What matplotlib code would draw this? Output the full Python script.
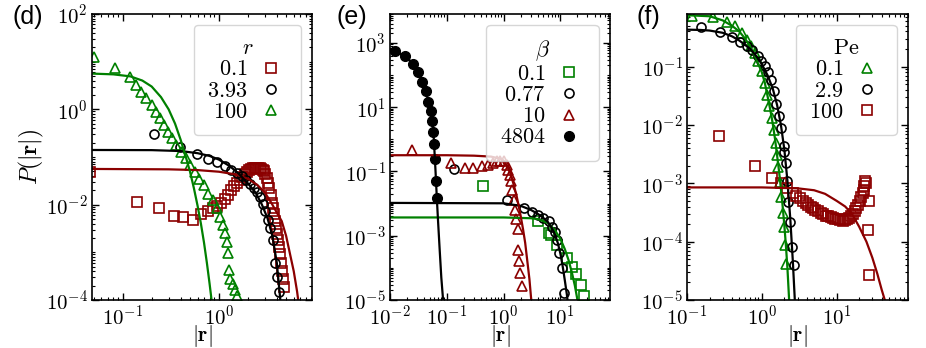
import numpy as np
import matplotlib
matplotlib.use('Agg')
import matplotlib.pyplot as plt
from matplotlib import ticker

plt.rcParams['mathtext.fontset'] = 'cm'
plt.rcParams['mathtext.default'] = 'rm'

RED = '#8b0000'
GREEN = '#008000'

# ---------------- panel (d): r ----------------
d_sq_x = [0.046, 0.141, 0.239, 0.34, 0.425, 0.532, 0.65, 0.774, 0.873, 0.95, 1.05, 1.15, 1.25,
          1.35, 1.45, 1.55, 1.65, 1.75, 1.85, 1.95, 2.05, 2.15, 2.25, 2.35, 2.45, 2.55, 2.65,
          2.75, 2.85, 2.95, 3.05, 3.15, 3.25, 3.35, 3.45, 3.55, 3.65, 3.75, 3.85, 3.95, 4.05,
          4.15, 4.25, 4.35, 4.45, 4.55, 4.65, 4.75]
d_sq_y = [0.048, 0.0112, 0.0083, 0.0057, 0.0056, 0.0048, 0.0063, 0.0074, 0.0087, 0.0095, 0.011,
          0.013, 0.016, 0.020, 0.024, 0.028, 0.033, 0.038, 0.043, 0.048, 0.052, 0.055, 0.058,
          0.059, 0.060, 0.060, 0.059, 0.057, 0.054, 0.050, 0.044, 0.037, 0.029, 0.022, 0.016,
          0.011, 0.0085, 0.0065, 0.0046, 0.0033, 0.0024, 0.0018, 0.0013, 0.0009, 0.0006,
          0.0004, 0.00027, 0.00019]
d_ci_x = [0.212, 0.393, 0.585, 0.774, 0.96, 1.15, 1.34, 1.53, 1.72, 1.91, 2.10, 2.29, 2.48, 2.67,
          2.86, 3.05, 3.24, 3.43, 3.62, 3.81, 4.0, 4.19]
d_ci_y = [0.30, 0.165, 0.116, 0.089, 0.077, 0.066, 0.054, 0.046, 0.039, 0.033, 0.027, 0.022,
          0.018, 0.0147, 0.0105, 0.0072, 0.0047, 0.0032, 0.0018, 0.0006, 0.0003, 0.00015]
d_tr_x = [0.05, 0.083, 0.118, 0.139, 0.156, 0.176, 0.2, 0.221, 0.243, 0.267, 0.297, 0.329, 0.362,
          0.408, 0.453, 0.499, 0.562, 0.624, 0.698, 0.774, 0.873, 0.96, 1.02, 1.09, 1.16, 1.2,
          1.25, 1.27, 1.30, 1.41, 1.47, 1.53]
d_tr_y = [12.3, 7.5, 4.7, 3.2, 2.35, 1.7, 1.23, 0.89, 0.65, 0.47, 0.34, 0.245, 0.178, 0.129,
          0.093, 0.068, 0.049, 0.035, 0.026, 0.017, 0.0126, 0.0083, 0.0056, 0.0037, 0.0025,
          0.00166, 0.00095, 0.00043, 0.00028, 0.00022, 0.000162, 0.00012]

d_fit_red_x = [0.048, 0.3, 0.6, 1.0, 1.5, 2.0, 2.5, 3.0, 3.5, 4.0, 4.5, 5.0, 5.5, 6.0, 6.5, 6.9]
d_fit_red_y = [0.056, 0.055, 0.053, 0.049, 0.043, 0.035, 0.026, 0.018, 0.011, 0.0068, 0.0045,
               0.0022, 0.0009, 0.0004, 0.00015, 0.00006]
d_fit_blk_x = [0.048, 0.2, 0.4, 0.6, 0.8, 1.0, 1.3, 1.6, 2.0, 2.4, 2.8, 3.2, 3.6, 4.0, 4.35, 4.6]
d_fit_blk_y = [0.14, 0.139, 0.133, 0.12, 0.105, 0.088, 0.064, 0.045, 0.028, 0.018, 0.010,
               0.0052, 0.0022, 0.0006, 0.0001, 0.00003]
d_fit_grn_x = [0.048, 0.08, 0.12, 0.16, 0.2, 0.25, 0.3, 0.35, 0.4, 0.45, 0.5, 0.55, 0.6, 0.65,
               0.7, 0.75, 0.8, 0.85]
d_fit_grn_y = [5.6, 5.4, 4.9, 4.0, 3.0, 1.8, 1.0, 0.5, 0.23, 0.105, 0.05, 0.022, 0.0095, 0.004,
               0.0016, 0.0006, 0.00022, 0.00008]

# ---------------- panel (e): beta ----------------
e_sq_x = [0.43, 4.0, 6.2, 6.8, 8.7, 13.1, 15.9, 19.0, 22.7, 25.8]
e_sq_y = [0.036, 0.0029, 0.0012, 0.00107, 0.00052, 0.0002, 0.00011, 6.5e-5, 3e-5, 1.3e-5]
e_ci_x = [0.134, 1.17, 2.3, 3.16, 4.1, 5.0, 6.2, 7.1, 8.1, 8.7, 9.3, 10.7, 11.8]
e_ci_y = [0.117, 0.013, 0.0072, 0.0056, 0.0044, 0.0035, 0.0028, 0.0019, 0.00135, 0.00074,
          0.00029, 0.0001, 1.6e-5]
e_tr_x = [0.0242, 0.117, 0.21, 0.295, 0.414, 0.54, 0.66, 0.76, 0.87, 1.0, 1.15, 1.22, 1.28,
          1.33, 1.4, 1.5, 1.59, 1.66, 1.76, 1.83, 1.9, 1.96, 2.09]
e_tr_y = [0.47, 0.18, 0.129, 0.129, 0.144, 0.162, 0.18, 0.205, 0.21, 0.205, 0.162, 0.11, 0.075,
          0.049, 0.027, 0.0132, 0.0065, 0.0032, 0.0016, 0.00036, 0.00016, 6.8e-5, 2.7e-5]
e_fc_x = [0.0123, 0.0184, 0.0258, 0.0316, 0.0372, 0.0427, 0.0474, 0.0524, 0.055, 0.058, 0.06,
          0.0615, 0.0644, 0.0667]
e_fc_y = [547, 383, 226, 121, 63, 31, 15, 7.4, 3.6, 1.74, 0.7, 0.245, 0.049, 0.0148]

e_fit_grn_x = [0.01, 1.0, 3.0, 4.0, 6.0, 8.0, 10.0, 12.0, 14.0, 16.0, 18.0, 20.0, 22.0]
e_fit_grn_y = [0.0037, 0.0037, 0.0035, 0.0033, 0.0025, 0.0015, 0.0008, 0.00038, 0.00017, 7e-5,
               2.8e-5, 1e-5, 3.5e-6]
e_fit_blk_x = [0.01, 1.0, 2.0, 3.0, 4.0, 5.0, 6.0, 7.0, 8.0, 9.0, 10.0, 11.0, 12.0, 13.0, 14.0]
e_fit_blk_y = [0.0105, 0.0102, 0.0085, 0.0064, 0.0048, 0.0036, 0.0027, 0.0018, 0.0011, 0.0006,
               0.00028, 0.00011, 4e-5, 1.5e-5, 5e-6]
e_fit_red_x = [0.01, 0.1, 0.3, 0.6, 0.87, 1.0, 1.15, 1.31, 1.5, 1.7, 1.96, 2.2, 2.4, 2.6, 2.85,
               3.07, 3.2]
e_fit_red_y = [0.32, 0.32, 0.31, 0.29, 0.25, 0.22, 0.15, 0.089, 0.040, 0.017, 0.005, 0.0016,
               0.0006, 0.00018, 4.5e-5, 1e-5, 4e-6]
e_fit_fc_x = [0.01, 0.0123, 0.0184, 0.0258, 0.0316, 0.0372, 0.0427, 0.0474, 0.0524, 0.055, 0.058,
              0.06, 0.063, 0.0667, 0.07, 0.075, 0.08, 0.086, 0.09]
e_fit_fc_y = [640, 560, 380, 225, 125, 63, 31, 15, 7.0, 3.8, 1.8, 0.6, 0.12, 0.015, 0.003,
              0.00035, 0.00005, 0.00001, 3e-6]

# ---------------- panel (f): Pe ----------------
f_tr_x = [0.115, 0.224, 0.338, 0.436, 0.537, 0.625, 0.706, 0.807, 0.893, 1.0, 1.10, 1.18, 1.25,
          1.35, 1.45, 1.57, 1.62, 1.67, 1.74, 1.83, 1.92, 1.96, 2.03, 2.09]
f_tr_y = [0.73, 0.71, 0.575, 0.49, 0.38, 0.29, 0.224, 0.17, 0.123, 0.083, 0.052, 0.033, 0.021,
          0.013, 0.0083, 0.0049, 0.0031, 0.0019, 0.00107, 0.00059, 0.00031, 0.00018, 8.8e-5,
          4.2e-5]
f_ci_x = [0.152, 0.275, 0.395, 0.51, 0.625, 0.75, 0.877, 0.97, 1.10, 1.21, 1.31, 1.45, 1.57,
          1.70, 1.83, 1.96, 2.0, 2.08, 2.15, 2.25, 2.4, 2.5, 2.7, 2.85]
f_ci_y = [0.48, 0.395, 0.32, 0.265, 0.224, 0.19, 0.155, 0.127, 0.104, 0.081, 0.06, 0.038, 0.023,
          0.014, 0.0087, 0.0043, 0.0035, 0.0022, 0.0011, 0.00048, 0.00022, 8e-5, 4e-5, 8e-6]
f_sq_x = [0.27, 0.807, 1.37, 1.83, 2.2, 2.61, 2.9, 3.21, 3.55, 3.85, 4.14, 4.5, 4.83, 5.2, 5.6,
          6.1, 6.6, 7.1, 7.7, 8.3, 8.9, 9.6, 10.4, 11.2, 12.1, 12.9, 13.7, 14.7, 15.7, 16.5,
          17.4, 18.3, 19.2, 20.3, 21.4, 22.2, 22.9, 23.5, 24.0, 24.4, 27.0, 26.2, 27.0]
f_sq_y = [0.0064, 0.002, 0.00123, 0.001, 0.00082, 0.00067, 0.0006, 0.00056, 0.00049, 0.00046,
          0.00043, 0.0004, 0.00037, 0.00035, 0.00033, 0.00031, 0.0003, 0.00028, 0.00027,
          0.00026, 0.00025, 0.000245, 0.00024, 0.000235, 0.00023, 0.000235, 0.00024, 0.00025,
          0.00027, 0.0003, 0.00033, 0.00038, 0.00043, 0.0005, 0.00059, 0.00068, 0.00076,
          0.0009, 0.0011, 0.001, 0.00049, 0.00016, 2.7e-5]

f_fit_grn_x = [0.1, 0.2, 0.3, 0.4, 0.5, 0.6, 0.7, 0.8, 0.9, 1.0, 1.1, 1.2, 1.3, 1.4, 1.5, 1.6,
               1.7, 1.8, 1.9, 2.0, 2.1, 2.2, 2.3, 2.4]
f_fit_grn_y = [0.76, 0.73, 0.62, 0.5, 0.4, 0.3, 0.22, 0.155, 0.11, 0.08, 0.052, 0.03, 0.018,
               0.0105, 0.0058, 0.003, 0.0016, 0.0008, 0.0004, 0.00019, 8.5e-5, 3.5e-5, 1.2e-5,
               4e-6]
f_fit_blk_x = [0.1, 0.15, 0.2, 0.3, 0.4, 0.5, 0.6, 0.7, 0.8, 0.9, 1.0, 1.2, 1.4, 1.6, 1.8, 2.0,
               2.2, 2.4, 2.6, 2.8]
f_fit_blk_y = [0.43, 0.425, 0.415, 0.38, 0.33, 0.28, 0.235, 0.2, 0.165, 0.135, 0.11, 0.07,
               0.042, 0.022, 0.01, 0.0038, 0.0011, 0.00025, 4.5e-5, 7e-6]
f_fit_red_x = [0.1, 1.0, 3.0, 5.0, 7.0, 10.0, 13.0, 16.0, 20.0, 25.0, 30.0, 35.0, 40.0, 44.0, 48.0]
f_fit_red_y = [0.00085, 0.00085, 0.00082, 0.00076, 0.00066, 0.0005, 0.0004, 0.0003, 0.00018,
               0.0001, 5.3e-5, 2.8e-5, 1.5e-5, 1e-5, 6e-6]


def dec_fmt(v, pos):
    return r'$10^{%d}$' % int(round(np.log10(v)))


def style(ax, xmaj, ymaj):
    ax.set_xscale('log')
    ax.set_yscale('log')
    ax.xaxis.set_major_locator(ticker.FixedLocator(xmaj))
    ax.yaxis.set_major_locator(ticker.FixedLocator(ymaj))
    for a in (ax.xaxis, ax.yaxis):
        a.set_major_formatter(ticker.FuncFormatter(dec_fmt))
        a.set_minor_locator(ticker.LogLocator(base=10, subs=np.arange(1, 10), numticks=30))
        a.set_minor_formatter(ticker.NullFormatter())
    ax.tick_params(which='both', direction='in', top=True, right=True, labelsize=15, pad=3)
    ax.tick_params(which='major', length=5, width=1)
    ax.tick_params(which='minor', length=2.5, width=0.8)
    for s in ax.spines.values():
        s.set_linewidth(1.2)
    ax.set_xlabel(r'$|\mathbf{r}|$', fontsize=15.5, labelpad=-4)


def legend(ax, title):
    leg = ax.legend(title=title, loc='upper right', fontsize=16, title_fontsize=16,
                    markerfirst=False, handlelength=1.5, handletextpad=0.3, labelspacing=0.05,
                    borderpad=0.6, numpoints=1)
    return leg


mk = dict(ls='none', ms=6.5, mew=1.2, mfc='none')

fig = plt.figure(figsize=(9.26, 3.48), dpi=100)

# (d)
ax = fig.add_axes([0.0994, 0.138, 0.2376, 0.822])
ax.plot(d_sq_x, d_sq_y, marker='s', color=RED, label=r'$0.1$', **mk)
ax.plot(d_ci_x, d_ci_y, marker='o', color='k', label=r'$3.93$', **mk)
ax.plot(d_tr_x, d_tr_y, marker='^', color=GREEN, label=r'$100$', **mk)
ax.plot(d_fit_red_x, d_fit_red_y, color=RED, lw=1.6)
ax.plot(d_fit_blk_x, d_fit_blk_y, color='k', lw=1.6)
ax.plot(d_fit_grn_x, d_fit_grn_y, color=GREEN, lw=1.6)
style(ax, [1e-1, 1e0], [1e-4, 1e-2, 1e0, 1e2])
ax.set_xlim(0.048, 9.3)
ax.set_ylim(1e-4, 1e2)
ax.set_ylabel(r'$\mathit{P}(|\mathbf{r}|)$', fontsize=17, labelpad=0)
legend(ax, r'$\mathit{r}$')

# (e)
ax = fig.add_axes([0.4212, 0.138, 0.2376, 0.822])
ax.plot(e_sq_x, e_sq_y, marker='s', color=GREEN, label=r'$0.1$', **mk)
ax.plot(e_ci_x, e_ci_y, marker='o', color='k', label=r'$0.77$', **mk)
ax.plot(e_tr_x, e_tr_y, marker='^', color=RED, label=r'$10$', **mk)
ax.plot(e_fc_x, e_fc_y, marker='o', color='k', ls='none', ms=7, label=r'$4804$')
ax.plot(e_fit_grn_x, e_fit_grn_y, color=GREEN, lw=1.6)
ax.plot(e_fit_blk_x, e_fit_blk_y, color='k', lw=1.6)
ax.plot(e_fit_red_x, e_fit_red_y, color=RED, lw=1.6)
ax.plot(e_fit_fc_x, e_fit_fc_y, color='k', lw=1.6)
style(ax, [1e-2, 1e-1, 1e0, 1e1], [1e-5, 1e-3, 1e-1, 1e1, 1e3])
ax.set_xlim(0.01, 75)
ax.set_ylim(1e-5, 8e3)
legend(ax, r'$\beta$')

# (f)
ax = fig.add_axes([0.7419, 0.138, 0.2387, 0.822])
ax.plot(f_tr_x, f_tr_y, marker='^', color=GREEN, label=r'$0.1$', **mk)
ax.plot(f_ci_x, f_ci_y, marker='o', color='k', label=r'$2.9$', **mk)
ax.plot(f_sq_x, f_sq_y, marker='s', color=RED, label=r'$100$', **mk)
ax.plot(f_fit_grn_x, f_fit_grn_y, color=GREEN, lw=1.6)
ax.plot(f_fit_blk_x, f_fit_blk_y, color='k', lw=1.6)
ax.plot(f_fit_red_x, f_fit_red_y, color=RED, lw=1.6)
style(ax, [1e-1, 1e0, 1e1], [1e-5, 1e-4, 1e-3, 1e-2, 1e-1])
ax.set_xlim(0.1, 90)
ax.set_ylim(1e-5, 0.8)
legend(ax, r'$\mathrm{Pe}$')

for x, lab in [(0.013, '(d)'), (0.363, '(e)'), (0.687, '(f)')]:
    fig.text(x, 0.985, lab, fontsize=18, family='Liberation Sans', va='top', ha='left')

plt.savefig('out.png', dpi=100)
